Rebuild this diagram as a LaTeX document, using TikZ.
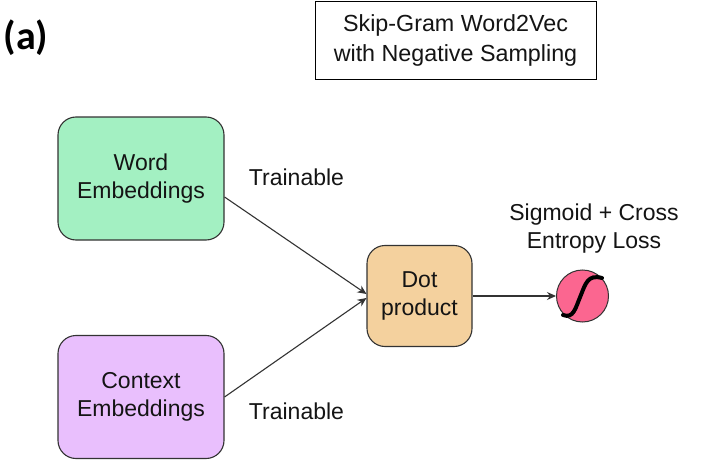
\documentclass[tikz,border=0pt]{standalone}
\usepackage{fontspec}
\setmainfont{Liberation Sans}
\newfontfamily\labelfont{Carlito}
\usetikzlibrary{arrows.meta}
\definecolor{wordfill}{HTML}{A3F0C2}
\definecolor{ctxfill}{HTML}{E9BFFD}
\definecolor{dotfill}{HTML}{F4D19E}
\definecolor{sigfill}{HTML}{FB6690}
\definecolor{edgeink}{HTML}{333333}
\tikzset{
  x=1pt,y=-1pt,
  txt/.style={font=\fontsize{23}{28}\selectfont,text=black!92,align=center,inner sep=0pt},
  block/.style={txt,draw=edgeink,line width=1.1pt,rounded corners=18pt,minimum width=166pt,minimum height=123pt},
  dotblock/.style={block,minimum width=105pt,minimum height=101pt},
  arrow/.style={draw=edgeink,line width=1.1pt,-{Stealth[length=9pt,width=8pt]}},
}
\begin{document}
\begin{tikzpicture}
\useasboundingbox (0,0) rectangle (702,460);
\fill[white] (0,0) rectangle (702,460);
\node[font=\labelfont\bfseries\fontsize{40}{44}\selectfont,inner sep=0pt,text=black] (tag) at (26,38) {(a)};
\node[draw=black,line width=0.9pt,minimum width=281pt,minimum height=78pt,align=center,inner sep=0pt,text=black!92,font=\fontsize{23.3}{30}\selectfont] (title) at (455.5,40) {Skip-Gram Word2Vec\\with Negative Sampling};
\node[block,fill=wordfill] (word) at (141,178.5) {Word\\Embeddings};
\node[block,fill=ctxfill] (ctx) at (141,397) {Context\\Embeddings};
\node[dotblock,fill=dotfill] (dot) at (419.5,296) {Dot\\product};
\node[circle,draw=edgeink,line width=1pt,fill=sigfill,minimum size=52pt,inner sep=0pt] (sig) at (582.5,296) {};
\draw[black,line width=4pt,line cap=round] ([shift={(-19.5,19)}]sig.center) .. controls ([shift={(-9,23)}]sig.center) and ([shift={(-7,12)}]sig.center) .. ([shift={(-2,0)}]sig.center) .. controls ([shift={(3,-12)}]sig.center) and ([shift={(5,-22)}]sig.center) .. ([shift={(19.5,-18)}]sig.center);
\node[txt] (t1) at (296.5,177) {Trainable};
\node[txt] (t2) at (296.5,411) {Trainable};
\node[txt] (sl) at (594,229) {Sigmoid + Cross\\Entropy Loss};
\draw[arrow] ([yshift=-18.5pt]word.east) -- ([yshift=2pt]dot.west);
\draw[arrow] (ctx.east) -- ([yshift=-2pt]dot.west);
\draw[arrow] (dot.east) -- (sig.west);
\end{tikzpicture}
\end{document}
